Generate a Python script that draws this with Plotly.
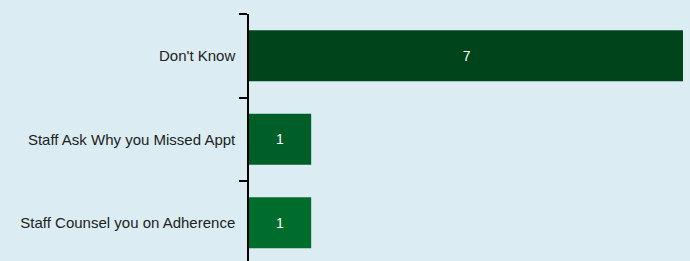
import plotly.graph_objects as go

categories = ["Don't Know", "Staff Ask Why you Missed Appt", "Staff Counsel you on Adherence"]
values = [7, 1, 1]
colors = ["#00441b", "#005f28", "#006d2c"]

fig = go.Figure(go.Bar(
    y=categories, x=values, orientation="h",
    marker=dict(color=colors, line=dict(width=0)),
    text=[str(v) for v in values], textposition="inside",
    insidetextanchor="middle",
    textfont=dict(color="white", size=14, family="Liberation Sans, Arial"),
    width=0.61,
    hoverinfo="none",
))

fig.update_layout(
    width=690, height=261,
    margin=dict(l=249, r=7, t=14, b=0),
    paper_bgcolor="#dbedf3", plot_bgcolor="#dbedf3",
    showlegend=False,
    font=dict(family="Liberation Sans, Arial", size=15, color="#222222"),
    xaxis=dict(range=[0, 6.98], visible=False, showgrid=False, zeroline=False),
    yaxis=dict(type="category", range=[2.458, -0.5], showgrid=False, zeroline=False,
               showline=True, linecolor="black", linewidth=1.5,
               ticks="outside", tickson="boundaries", ticklen=8, tickcolor="black", tickwidth=1.5,
               ticklabelstandoff=9,
               tickfont=dict(size=15, color="#222222")),
)

fig.write_html("out.html", config={"displayModeBar": False},
               post_script="document.body.style.margin='0';document.body.style.overflow='hidden';")
